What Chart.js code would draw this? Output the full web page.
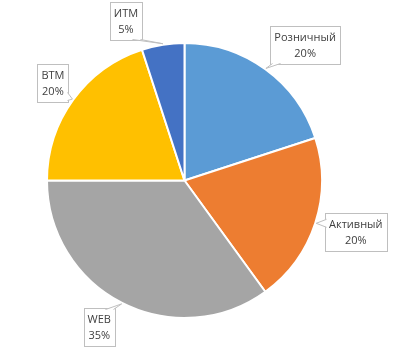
<!DOCTYPE html>
<html>
<head>
<meta charset="utf-8">
<script src="https://cdn.jsdelivr.net/npm/chart.js@4.4.1/dist/chart.umd.min.js"></script>
<style>
  html, body { margin: 0; padding: 0; background: #fff; }
  #wrap { width: 412px; height: 349px; position: relative; }
</style>
</head>
<body>
<div id="wrap"><canvas id="pie"></canvas></div>
<script>
const labels = ['Розничный', 'Активный', 'WEB', 'ВТМ', 'ИТМ'];
const shares = [20, 20, 35, 20, 5];
const colors = ['#5B9BD5', '#ED7D31', '#A5A5A5', '#FFC000', '#4472C4'];

// callout placement: angle (deg, clockwise from top) and distance in radii
const calloutPos = [
    [41.7, 1.319],
    [106.6, 1.300],
    [210.2, 1.233],
    [306.6, 1.192],
    [339.9, 1.238]
];

const callouts = {
    id: 'callouts',
    afterDatasetsDraw(chart) {
        const ctx = chart.ctx;
        const meta = chart.getDatasetMeta(0);
        ctx.save();
        ctx.font = '11px "Open Sans", "Noto Sans", sans-serif';
        ctx.textAlign = 'center';
        ctx.textBaseline = 'middle';
        meta.data.forEach((arc, i) => {
            const cx = arc.x, cy = arc.y, r = arc.outerRadius;
            const [deg, k] = calloutPos[i];
            const a = deg * Math.PI / 180;
            const bx = cx + Math.sin(a) * r * k;
            const by = cy - Math.cos(a) * r * k;
            const mid = (arc.startAngle + arc.endAngle) / 2;
            const tx = cx + Math.cos(mid) * (r + 1);
            const ty = cy + Math.sin(mid) * (r + 1);

            const line1 = labels[i];
            const line2 = shares[i] + '%';
            const w = Math.round(Math.max(ctx.measureText(line1).width, ctx.measureText(line2).width) + 8);
            const h = 38;
            const x0 = Math.round(bx - w / 2) + 0.5, y0 = Math.round(by - h / 2) + 0.5;
            const x1 = x0 + w, y1 = y0 + h;

            ctx.fillStyle = '#fff';
            ctx.strokeStyle = '#BFBFBF';
            ctx.lineWidth = 1;
            ctx.fillRect(x0, y0, w, h);
            ctx.strokeRect(x0, y0, w, h);

            // tail from nearest box side to the slice edge
            let p1, p2;
            const px = Math.min(Math.max(tx, x0 + 6), x1 - 6);
            const py = Math.min(Math.max(ty, y0 + 6), y1 - 6);
            if (ty > y1) { p1 = [px - 4, y1 - 1]; p2 = [px + 4, y1 - 1]; }
            else if (ty < y0) { p1 = [px - 4, y0 + 1]; p2 = [px + 4, y0 + 1]; }
            else if (tx < x0) { p1 = [x0 + 1, py - 4]; p2 = [x0 + 1, py + 4]; }
            else { p1 = [x1 - 1, py - 4]; p2 = [x1 - 1, py + 4]; }
            ctx.beginPath();
            ctx.moveTo(p1[0], p1[1]);
            ctx.lineTo(tx, ty);
            ctx.lineTo(p2[0], p2[1]);
            ctx.closePath();
            ctx.fill();
            ctx.beginPath();
            ctx.moveTo(p1[0], p1[1]);
            ctx.lineTo(tx, ty);
            ctx.lineTo(p2[0], p2[1]);
            ctx.stroke();

            ctx.fillStyle = '#404040';
            ctx.fillText(line1, bx, by - 7);
            ctx.fillText(line2, bx, by + 9);
        });
        ctx.restore();
    }
};

new Chart(document.getElementById('pie'), {
    type: 'pie',
    data: {
        labels: labels,
        datasets: [{
            data: shares,
            backgroundColor: colors,
            borderColor: '#fff',
            borderWidth: 2
        }]
    },
    options: {
        responsive: true,
        maintainAspectRatio: false,
        animation: false,
        layout: { padding: { left: 46, right: 89, top: 42, bottom: 30 } },
        plugins: {
            legend: { display: false },
            tooltip: { enabled: false }
        }
    },
    plugins: [callouts]
});
</script>
</body>
</html>
